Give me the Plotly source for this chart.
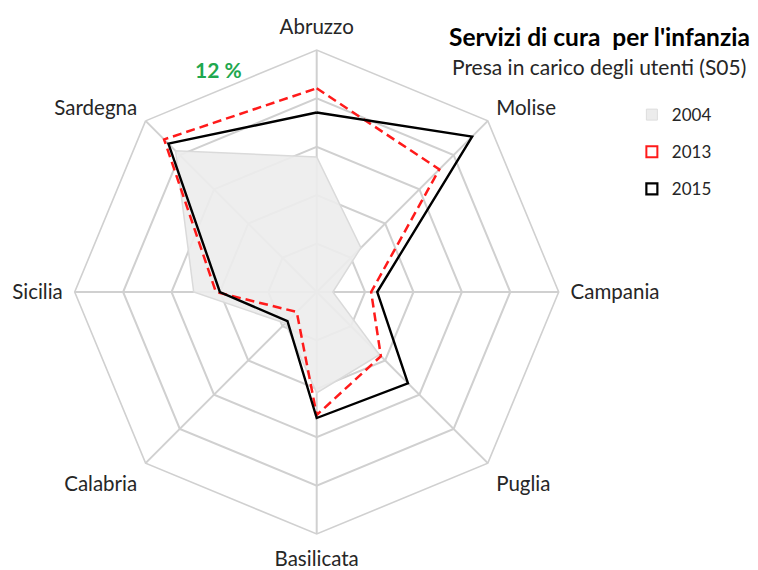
import plotly.graph_objects as go

regions = ["Abruzzo", "Molise", "Campania", "Puglia", "Basilicata", "Calabria", "Sicilia", "Sardegna"]
v2004 = [6.7, 3.1, 0.8, 4.4, 5.0, 2.2, 6.1, 9.9]
v2013 = [10.1, 8.6, 2.7, 4.5, 6.1, 1.4, 5.0, 10.7]
v2015 = [8.9, 10.9, 3.0, 6.4, 6.25, 2.05, 4.8, 10.4]
ring_vals = [2.4, 4.8, 7.2, 9.6, 12]
r_max = 12

FONT = "Lato"

def closed(vals):
    return list(vals) + [vals[0]]

theta = closed(regions)

fig = go.Figure()
fig.add_trace(go.Scatterpolar(r=closed(v2004), theta=theta, mode="lines", fill="toself",
                              fillcolor="rgba(236,236,236,0.9)", line=dict(color="#dadada", width=1.5),
                              name="2004", showlegend=False))
fig.add_trace(go.Scatterpolar(r=closed(v2013), theta=theta, mode="lines",
                              line=dict(color="#ff1a1a", width=2.5, dash="9px,5px"),
                              name="2013", showlegend=False))
fig.add_trace(go.Scatterpolar(r=closed(v2015), theta=theta, mode="lines",
                              line=dict(color="#000000", width=2.4),
                              name="2015", showlegend=False))

# legend entries
leg_styles = [
    ("2004", dict(symbol="square", size=11, color="#ececec", line=dict(color="#dddddd", width=1))),
    ("2013", dict(symbol="square-open", size=11, color="#ff1a1a", line=dict(width=2))),
    ("2015", dict(symbol="square-open", size=11, color="#000000", line=dict(width=2.2))),
]
for nm, mk in leg_styles:
    fig.add_trace(go.Scatterpolar(r=[None], theta=[regions[0]], mode="markers", marker=mk,
                                  name=nm, legendgroup=nm, showlegend=True))

W, H = 758, 570
cx, cy, R = 316.7, 292.0, 242.0
fig.update_layout(
    width=W, height=H,
    margin=dict(l=0, r=0, t=0, b=0, autoexpand=False),
    paper_bgcolor="white",
    plot_bgcolor="white",
    font=dict(family=FONT, color="#262626"),
    polar=dict(
        domain=dict(x=[(cx - R) / W, (cx + R) / W], y=[(H - cy - R) / H, (H - cy + R) / H]),
        bgcolor="white",
        gridshape="linear",
        radialaxis=dict(range=[0, r_max], tickvals=ring_vals, showticklabels=False, ticks="",
                        showline=False, gridcolor="#d0d0d0", gridwidth=1.6),
        angularaxis=dict(rotation=90, direction="clockwise", categoryorder="array",
                         categoryarray=regions, ticks="outside", ticklen=7,
                         tickcolor="rgba(0,0,0,0)", showline=True, linecolor="#d0d0d0",
                         linewidth=1.6, gridcolor="#d0d0d0", gridwidth=1.6,
                         tickfont=dict(family=FONT, size=20.5, color="#262626")),
    ),
    showlegend=True,
    legend=dict(x=0.8336, y=0.8297, xanchor="left", yanchor="top", tracegroupgap=12,
                font=dict(family=FONT, size=17, color="#262626"), itemwidth=30,
                bgcolor="rgba(0,0,0,0)"),
    annotations=[
        dict(text="<b>Servizi di cura  per l'infanzia</b>", x=752 / W, y=1 - 37 / H,
             xref="paper", yref="paper", showarrow=False, xanchor="right", yanchor="middle",
             font=dict(family=FONT, size=24.5, color="#000000")),
        dict(text="Presa in carico degli utenti (S05)", x=748 / W, y=1 - 66 / H,
             xref="paper", yref="paper", showarrow=False, xanchor="right", yanchor="middle",
             font=dict(family=FONT, size=21, color="#262626")),
        dict(text="<b>12 %</b>", x=218 / W, y=1 - 70 / H, xref="paper", yref="paper",
             showarrow=False, xanchor="center", yanchor="middle",
             font=dict(family=FONT, size=21, color="#1fa84f")),
    ],
)

fig.write_html("out.html", config={"displayModeBar": False},
               post_script="document.body.style.margin='0';document.body.style.padding='0';")
